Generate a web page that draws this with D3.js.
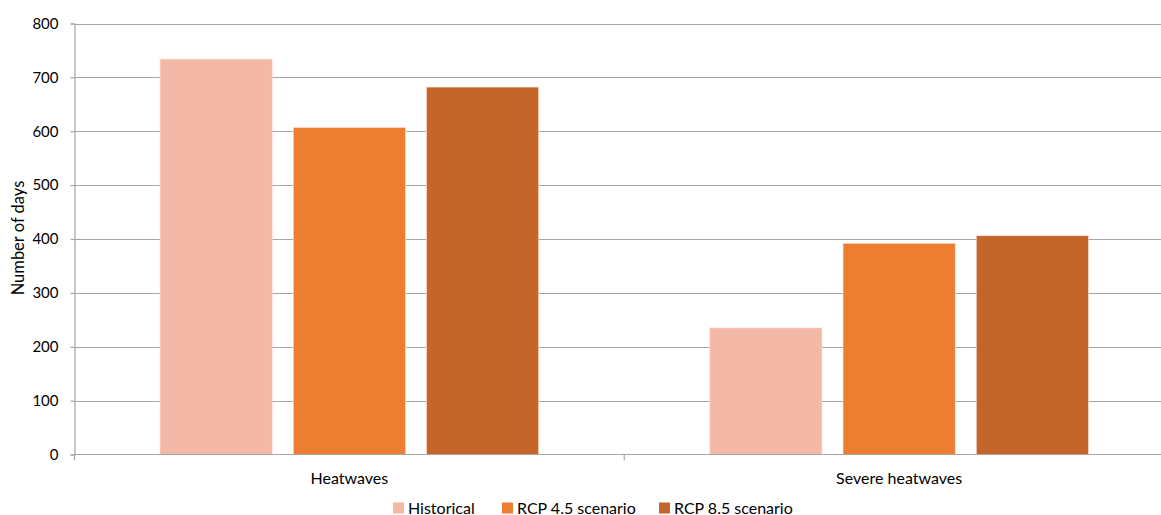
<!DOCTYPE html>
<html>
<head>
<meta charset="utf-8">
<script src="https://cdn.jsdelivr.net/npm/d3@7"></script>
<style>
  html, body { margin: 0; padding: 0; background: #fff; }
  svg { display: block; font-family: Lato, "Open Sans", sans-serif; }
</style>
</head>
<body>
<svg id="chart" width="1161" height="515"></svg>
<script>
// Heatwave day counts by scenario
const categories = ["Heatwaves", "Severe heatwaves"];
const seriesNames = ["Historical", "RCP 4.5 scenario", "RCP 8.5 scenario"];
const historical = [734, 235];
const rcp45 = [607, 392];
const rcp85 = [682, 406];
const yTicks = [0, 100, 200, 300, 400, 500, 600, 700, 800];
const colors = ["#F4B8A6", "#ED7D31", "#C4652A"];

const seriesValues = [historical, rcp45, rcp85];

const svg = d3.select("#chart");
const margin = { left: 74.5, top: 23.5, bottom: 454.5 };
const plotRight = 1174;

const x0 = d3.scaleBand().domain(categories).range([margin.left, plotRight]).padding(0);
const x1 = d3.scaleBand().domain(seriesNames).range([0, x0.bandwidth()])
  .paddingInner(0.158).paddingOuter(0.642);
const y = d3.scaleLinear().domain([0, 800]).range([margin.bottom, margin.top]);

// horizontal gridlines
svg.append("g")
  .selectAll("line")
  .data(yTicks.filter(d => d > 0))
  .join("line")
  .attr("x1", margin.left).attr("x2", plotRight)
  .attr("y1", d => Math.round(y(d)) + 0.5).attr("y2", d => Math.round(y(d)) + 0.5)
  .attr("stroke", "#a6a6a6").attr("stroke-width", 1.2);

// bars
const groups = svg.append("g")
  .selectAll("g")
  .data(categories)
  .join("g")
  .attr("transform", d => `translate(${x0(d)},0)`);

groups.selectAll("rect")
  .data((c, i) => seriesNames.map((s, j) => ({ s, j, v: seriesValues[j][i] })))
  .join("rect")
  .attr("x", d => x1(d.s))
  .attr("width", x1.bandwidth())
  .attr("y", d => y(d.v))
  .attr("height", d => y(0) - y(d.v))
  .attr("fill", d => colors[d.j])
  .attr("stroke", "#fbe3da").attr("stroke-width", 0.6);

// y axis
const yAxis = d3.axisLeft(y).tickValues(yTicks).tickSize(4).tickPadding(12).tickFormat(d3.format("d"));
const gy = svg.append("g").attr("transform", `translate(${margin.left},0)`).call(yAxis);
gy.select(".domain").attr("stroke", "#a6a6a6").attr("stroke-width", 1.2);
gy.selectAll(".tick line").attr("stroke", "#a6a6a6").attr("stroke-width", 1.2);
gy.selectAll(".tick text").attr("font-size", 15).attr("fill", "#000")
  .attr("font-family", "Lato, 'Open Sans', sans-serif");

// x axis with boundary ticks between categories
const gx = svg.append("g").attr("transform", `translate(0,${margin.bottom})`);
gx.append("line").attr("x1", margin.left).attr("x2", plotRight)
  .attr("stroke", "#a6a6a6").attr("stroke-width", 1.2);
const boundaries = categories.map(c => x0(c)).concat([x0(categories[categories.length - 1]) + x0.bandwidth()]);
gx.selectAll("line.b")
  .data(boundaries)
  .join("line").attr("class", "b")
  .attr("x1", d => d).attr("x2", d => d)
  .attr("y1", 0).attr("y2", 6)
  .attr("stroke", "#a6a6a6").attr("stroke-width", 1.2);
gx.selectAll("text")
  .data(categories)
  .join("text")
  .attr("x", d => x0(d) + x0.bandwidth() / 2)
  .attr("y", 29)
  .attr("text-anchor", "middle")
  .attr("font-size", 16)
  .text(d => d);

// y axis title
svg.append("text")
  .attr("transform", `translate(24,238) rotate(-90)`)
  .attr("text-anchor", "middle")
  .attr("font-size", 16.5)
  .text("Number of days");

// legend
const legendX = [393, 502, 659];
const legend = svg.append("g")
  .selectAll("g")
  .data(seriesNames)
  .join("g")
  .attr("transform", (d, i) => `translate(${legendX[i]},508)`);
legend.append("rect").attr("x", 0).attr("y", -5.5).attr("width", 11).attr("height", 11)
  .attr("fill", (d, i) => colors[i]);
legend.append("text").attr("x", 15).attr("y", 5.5).attr("font-size", 16).text(d => d);
</script>
</body>
</html>
